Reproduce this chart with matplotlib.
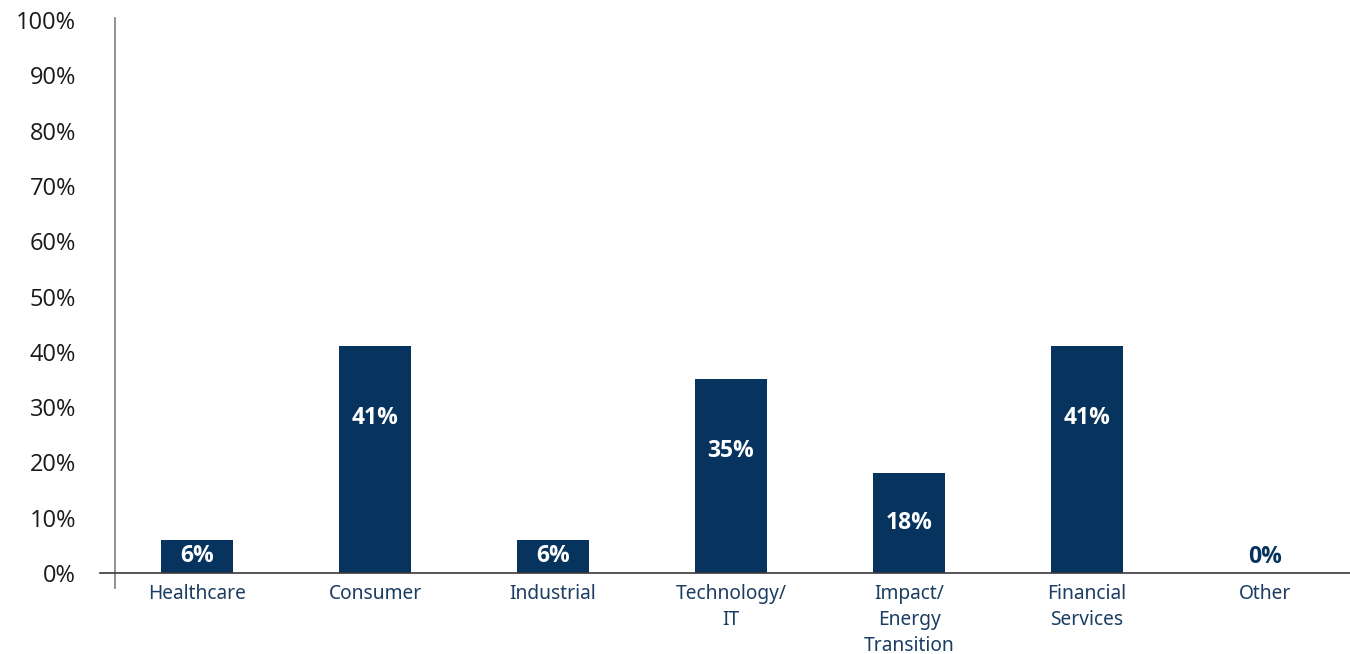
import matplotlib
matplotlib.use("Agg")
import matplotlib.pyplot as plt
import numpy as np

categories = ["Healthcare", "Consumer", "Industrial", "Technology/\nIT",
              "Impact/\nEnergy\nTransition", "Financial\nServices", "Other"]
values = [6, 41, 6, 35, 18, 41, 0]
yticks = [0, 10, 20, 30, 40, 50, 60, 70, 80, 90, 100]
ytick_labels = [f"{v}%" for v in yticks]

BAR = "#07335F"
NAVY = "#1C3D63"

fig = plt.figure(figsize=(13.5, 6.54), dpi=100)
ax = fig.add_axes([115/1350, (654-588)/654, (1350-115)/1350, (588-18)/654])

x = np.arange(len(categories))
ax.bar(x, values, width=0.41, color=BAR, zorder=2)

ax.set_xlim((115-197)/178, (1350-197)/178)
ax.set_ylim(-15/5.53, 100 + 2/5.53)

for s in ["top", "right", "bottom"]:
    ax.spines[s].set_visible(False)
ax.spines["left"].set_color("#7f7f7f")
ax.spines["left"].set_linewidth(1.2)

ax.axhline(0, xmin=-15/1235, xmax=1.0, color="#3a3a3a", linewidth=1.2,
           clip_on=False, zorder=3)

ax.set_yticks(yticks)
ax.set_yticklabels(ytick_labels, fontsize=17, family="Open Sans", color="#1a1a1a")
ax.tick_params(axis="y", length=0, pad=28)

ax.set_xticks(x)
ax.set_xticklabels(categories, fontsize=13.8, family="Noto Sans", color=NAVY,
                   linespacing=1.4)
ax.tick_params(axis="x", length=0, pad=-3)

for xi, v in zip(x, values):
    if v > 0:
        ypos = max(v / 2, v - 13)
        ax.text(xi, ypos, f"{v}%", ha="center", va="center", color="white",
                fontsize=16.5, fontweight="bold", family="Open Sans", zorder=4)
    else:
        ax.text(xi, v + 0.8, f"{v}%", ha="center", va="bottom", color=BAR,
                fontsize=16.5, fontweight="bold", family="Open Sans", zorder=4)

fig.savefig("out.png", dpi=100)
